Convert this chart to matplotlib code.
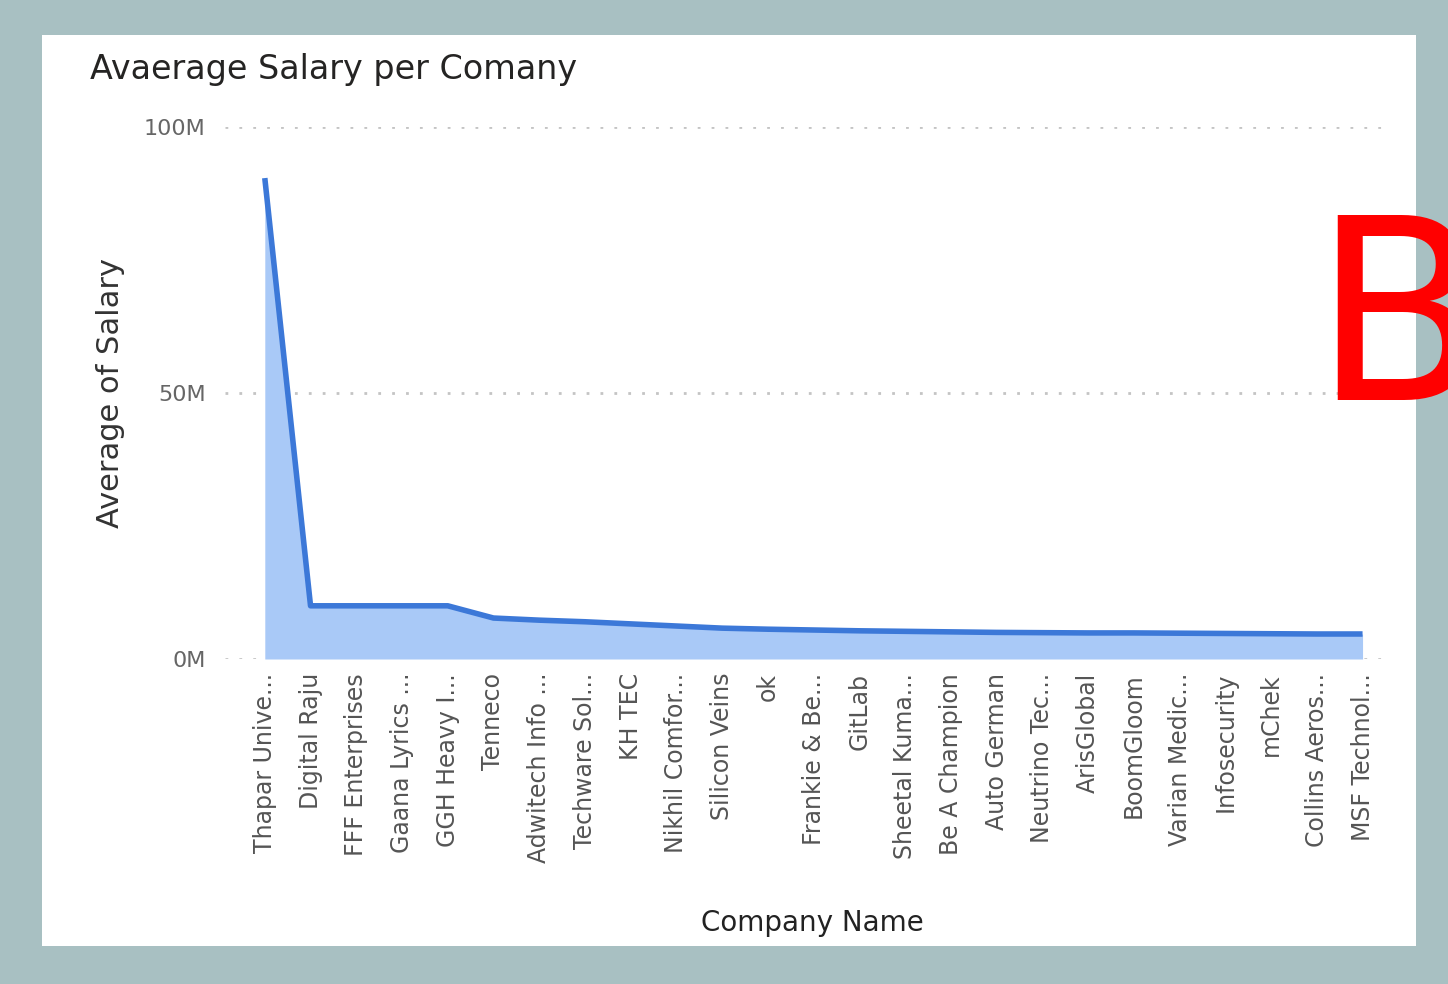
import numpy as np
import matplotlib.pyplot as plt

# datos
companies = ['Thapar Unive...', 'Digital Raju', 'FFF Enterprises', 'Gaana Lyrics ...',
             'GGH Heavy I...', 'Tenneco', 'Adwitech Info ...', 'Techware Sol...',
             'KH TEC', 'Nikhil Comfor...', 'Silicon Veins', 'ok', 'Frankie & Be...',
             'GitLab', 'Sheetal Kuma...', 'Be A Champion', 'Auto German',
             'Neutrino Tec...', 'ArisGlobal', 'BoomGloom', 'Varian Medic...',
             'Infosecurity', 'mChek', 'Collins Aeros...', 'MSF Technol...']
salary_m = [90.4, 10.0, 10.0, 10.0, 10.0, 7.7, 7.3, 7.0, 6.6, 6.2, 5.8, 5.6, 5.45,
            5.3, 5.2, 5.1, 5.0, 4.95, 4.9, 4.9, 4.85, 4.8, 4.75, 4.7, 4.7]
yticks_m = [0, 50, 100]
ytick_labels = ['0M', '50M', '100M']

fig = plt.figure(figsize=(14.48, 9.84), dpi=100)
fig.patch.set_facecolor('#a8c0c2')

# panel blanco
bg = fig.add_axes([42 / 1448, 38 / 984, 1374 / 1448, 911 / 984])
bg.set_facecolor('white')
bg.set_xticks([])
bg.set_yticks([])
for s in bg.spines.values():
    s.set_visible(False)
bg.set_zorder(0)

ax = fig.add_axes([225 / 1448, 325 / 984, 1165 / 1448, 532 / 984])
ax.set_zorder(1)
ax.patch.set_alpha(0)
x = np.arange(len(companies))
y = np.array(salary_m)
ax.fill_between(x, y, 0, color='#a9c9f7', linewidth=0, zorder=2)
ax.plot(x, y, color='#3c78d8', linewidth=4, solid_capstyle='butt', zorder=3)

ax.set_xlim(-0.87, 24.6)
ax.set_ylim(0, 100)
ax.set_yticks(yticks_m)
ax.set_yticklabels(ytick_labels, fontsize=16, color='#666666')
ax.set_xticks(x)
ax.set_xticklabels(companies, rotation=90, fontsize=17, color='#555555')
ax.tick_params(length=0, pad=10)
ax.tick_params(axis='y', pad=14)
for s in ax.spines.values():
    s.set_visible(False)
ax.yaxis.grid(True, linestyle=(0, (1, 4)), color='#c4c4c4', linewidth=2, zorder=1)
ax.set_axisbelow(True)

ax.set_ylabel('Average of Salary', fontsize=22, color='#333333')
ax.yaxis.set_label_coords(-100 / 1165, 0.5)
ax.set_xlabel('Company Name', fontsize=20, color='#222222')
ax.xaxis.set_label_coords((812 - 225) / 1165, -(923 - 659) / 532)
ax.xaxis.label.set_va('center')

fig.text(90 / 1448, 1 - 70 / 984, 'Avaerage Salary per Comany', fontsize=24,
         color='#252423', ha='left', va='center')

# letra roja
fig.text(1312 / 1448, 1 - 400 / 984, 'B', fontsize=182, color='red',
         ha='left', va='baseline')

fig.savefig('out.png', dpi=100, facecolor=fig.get_facecolor())
